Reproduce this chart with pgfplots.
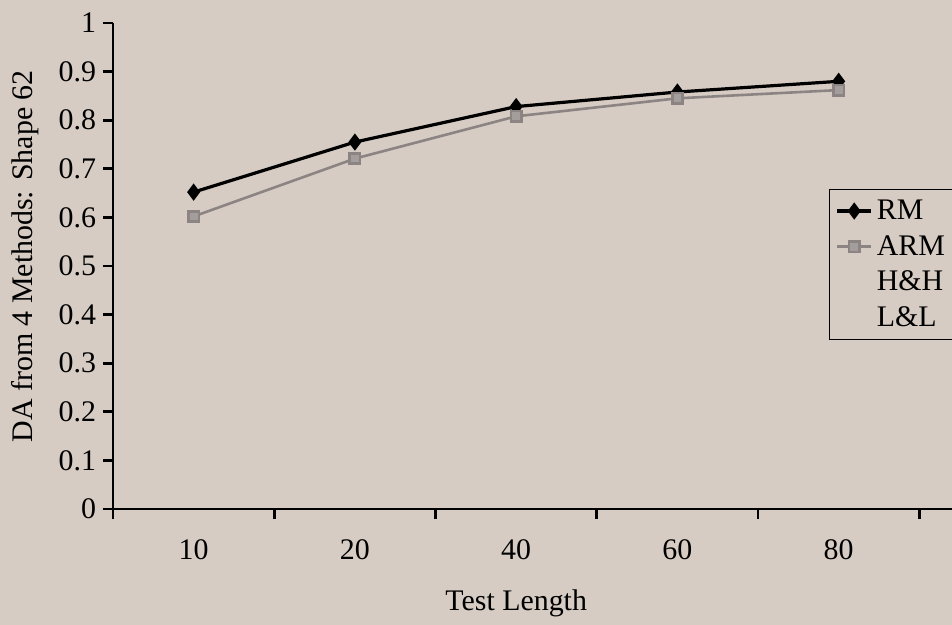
\documentclass[border=0pt]{standalone}
\usepackage{pgfplots}
\pgfplotsset{compat=1.18}
\usepackage{fontspec}
\setmainfont{Liberation Serif}
\definecolor{bg}{RGB}{214,204,196}
\definecolor{armgray}{RGB}{140,132,130}
\begin{document}
\begin{tikzpicture}
\fill[bg] (-56.5bp,-58bp) rectangle (419.5bp,254.5bp);
\begin{axis}[
  scale only axis,
  width=420.9bp, height=243bp,
  xmin=-0.5, xmax=4.72,
  ymin=0, ymax=1,
  axis lines=left,
  axis line style={line width=1.4bp, -},
  every tick/.style={black, line width=1.4bp},
  major tick length=5bp,
  tick align=outside,
  xtick={-0.5,0.5,1.5,2.5,3.5,4.5},
  xticklabels={},
  extra x ticks={0,1,2,3,4},
  extra x tick labels={10,20,40,60,80},
  extra x tick style={major tick length=0pt, xticklabel style={yshift=-12bp}},
  ytick={0,0.1,...,1},
  yticklabels={0,0.1,0.2,0.3,0.4,0.5,0.6,0.7,0.8,0.9,1},
  /pgf/number format/assume math mode=true,
  tick label style={font=\fontsize{15}{18}\selectfont},
  xlabel={Test Length},
  ylabel={DA from 4 Methods: Shape 62},
  label style={font=\fontsize{15}{18}\selectfont},
  xlabel style={at={(axis description cs:0.479,-0.195)}, anchor=center},
  ylabel style={at={(axis description cs:-0.1045,0.52)}, anchor=center, rotate=0},
  legend style={at={(rel axis cs:0.8506,0.658)}, anchor=north west,
    draw=black, line width=0.6pt, fill=none,
    font=\fontsize{15}{18}\selectfont,
    row sep=2.5bp, inner xsep=3bp, inner ysep=3bp},
  legend cell align=left,
  clip=false,
]
\addplot[black, line width=1.6bp, mark=diamond*, mark size=3bp] coordinates {
  (0,0.652) (1,0.755) (2,0.828) (3,0.858) (4,0.880)
};
\addlegendentry{RM}
\addplot[armgray, line width=1.3bp, mark=square*, mark size=2.6bp, mark options={solid, fill=armgray!80}] coordinates {
  (0,0.602) (1,0.721) (2,0.808) (3,0.845) (4,0.862)
};
\addlegendentry{ARM}
\addlegendimage{opacity=0, mark=none}
\addlegendentry{H\&H}
\addlegendimage{opacity=0, mark=none}
\addlegendentry{L\&L}
\end{axis}
\pgfresetboundingbox
\path[use as bounding box] (-56.5bp,-58bp) rectangle (419.5bp,254.5bp);
\end{tikzpicture}
\end{document}
